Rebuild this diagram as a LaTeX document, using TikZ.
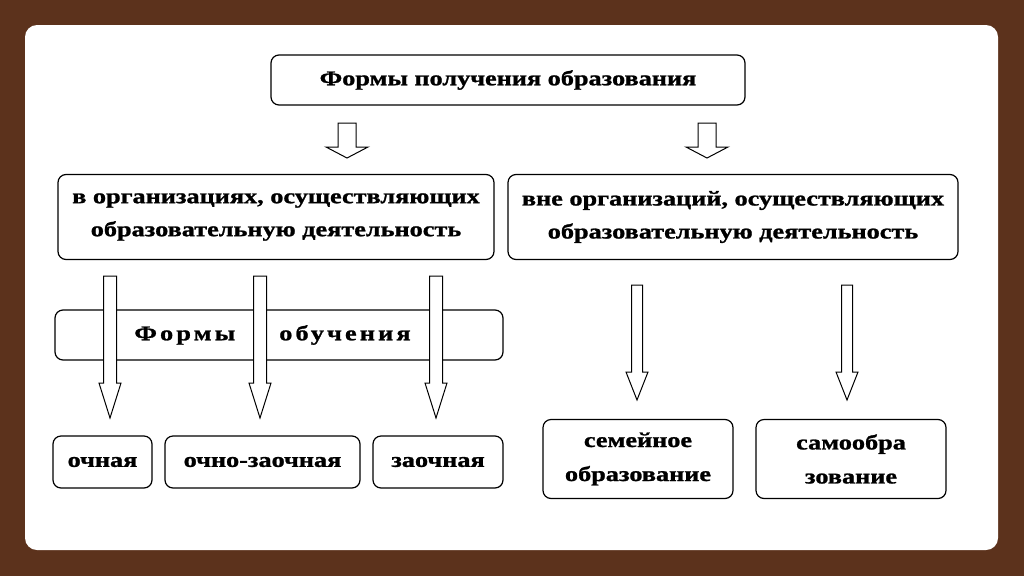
\documentclass[tikz,border=0pt]{standalone}
\usepackage{fontspec}
\setmainfont{Liberation Serif}[FakeStretch=1.25,FakeBold=1.2]
\definecolor{bois}{RGB}{92,50,28}
\tikzset{
  cadre/.style={draw, line width=1.2pt, rounded corners=8pt, fill=white, align=center,
    font=\fontsize{21}{33}\selectfont\bfseries, inner sep=0pt},
  fleche/.style={draw, line width=1pt, fill=white, line join=miter}
}
% fleche creuse : x, haut, base de la pointe, pointe, demi-tige, demi-pointe
\newcommand{\fleche}[6]{%
  \draw[fleche] (#1-#5,#2)--(#1+#5,#2)--(#1+#5,#3)--(#1+#6,#3)--(#1,#4)
    --(#1-#6,#3)--(#1-#5,#3)--cycle;}
\begin{document}
\begin{tikzpicture}[x=1pt,y=-1pt]
  \fill[bois] (0,0) rectangle (1024,576);
  \useasboundingbox (0,0) rectangle (1024,576);
  \fill[white, rounded corners=12pt] (25,25) rectangle (998,550);
  \node[cadre, minimum width=474pt, minimum height=50pt] (formes) at (508,80) {Формы получения образования};
  \node[cadre, minimum width=436pt, minimum height=85pt] (dans) at (276,217)
    {в организациях, осуществляющих\\образовательную деятельность};
  \node[cadre, minimum width=450pt, minimum height=85pt] (hors) at (733,217)
    {вне организаций, осуществляющих\\образовательную деятельность};
  \node[cadre, minimum width=448pt, minimum height=50pt] (obuch) at (279,335)
    {\addfontfeature{LetterSpace=15}Формы\hspace{44pt}обучения\hspace*{13pt}};
  \node[cadre, minimum width=99pt, minimum height=52pt] (ochn) at (102.5,462) {очная};
  \node[cadre, minimum width=195pt, minimum height=52pt] (ochzaoch) at (262.5,462) {очно-заочная};
  \node[cadre, minimum width=130pt, minimum height=52pt] (zaoch) at (438,462) {заочная};
  \node[cadre, minimum width=190pt, minimum height=79pt, font=\fontsize{21}{34}\selectfont\bfseries] (semya) at (638,459) {семейное\\образование};
  \node[cadre, minimum width=190pt, minimum height=79pt, font=\fontsize{21}{34}\selectfont\bfseries] (samo) at (851,459) {самообра\\зование};
  % fleches
  \foreach \x in {347,707}{\fleche{\x}{123}{147}{158}{9}{21}}
  \foreach \x in {110,260,436}{\fleche{\x}{276}{383}{418}{6.5}{11}}
  \foreach \x in {637,847}{\fleche{\x}{285}{372}{400}{5.5}{11}}
\end{tikzpicture}
\end{document}
